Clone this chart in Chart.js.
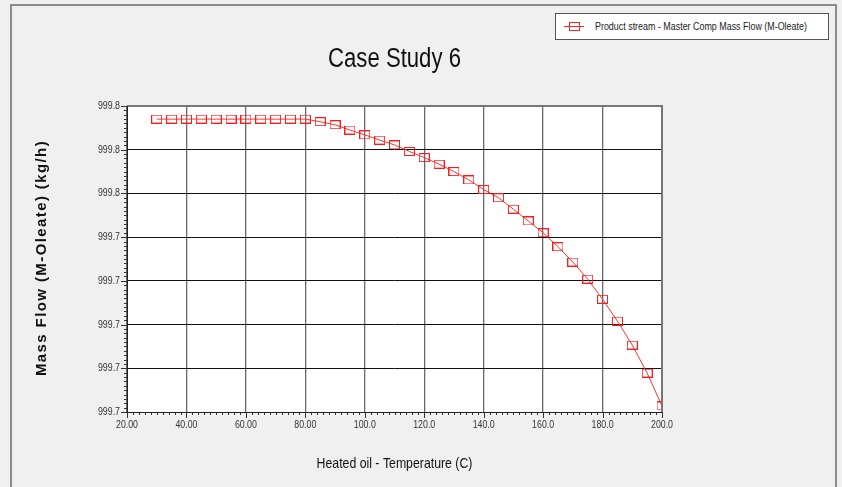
<!DOCTYPE html>
<html lang="en">
<head>
<meta charset="UTF-8" />
<title>Case Study 6</title>
<script src="https://cdn.jsdelivr.net/npm/chart.js@4.4.1/dist/chart.umd.min.js"></script>
<style>
 html, body {
  margin: 0;
  padding: 0;
  background: #f0f0f0;
 }
 .wrap {
  position: relative;
  width: 842px;
  height: 487px;
  overflow: hidden;
 }
 .frame {
  position: absolute;
  left: 10px;
  top: 4px;
  width: 823px;
  height: 520px;
  border: 2px solid #8c8c8c;
  border-bottom: none;
 }
 #chart {
  position: absolute;
  left: 0;
  top: 0;
 }
 .legend {
  position: absolute;
  left: 555px;
  top: 13px;
  width: 272px;
  height: 25px;
  background: #fff;
  border: 1px solid #555;
  font-family: 'Liberation Sans', Arial, sans-serif;
  font-size: 11px;
  color: #222;
  line-height: 25px;
  white-space: nowrap;
 }
 .legend .icon {
  position: absolute;
  left: 8px;
  top: 12px;
  width: 20px;
  height: 1px;
  background: #ff2020;
 }
 .legend .icon::after {
  content: '';
  position: absolute;
  left: 5px;
  top: -4px;
  width: 9px;
  height: 7px;
  border: 1px solid #ff2020;
 }
 .legend .text {
  position: absolute;
  left: 39px;
  top: 0;
  transform: scaleX(0.81);
  transform-origin: left center;
 }
</style>
</head>
<body>
<div class="wrap">
 <div class="frame"></div>
 <canvas id="chart" width="842" height="487"></canvas>
 <div class="legend"><span class="icon"></span><span class="text">Product stream - Master Comp Mass Flow (M-Oleate)</span></div>
</div>
<script>
 // data
 const temps = [30, 35, 40, 45, 50, 55, 60, 65, 70, 75, 80, 85, 90, 95, 100, 105, 110, 115, 120, 125, 130, 135, 140, 145, 150, 155, 160, 165, 170, 175, 180, 185, 190, 195, 200]
 const massFlow = [
  999.767, 999.767, 999.767, 999.767, 999.767, 999.767, 999.767, 999.767, 999.767, 999.767, 999.767,
  999.7664, 999.7657, 999.7645, 999.7634, 999.7622, 999.7611, 999.7596, 999.7582, 999.7567, 999.7550,
  999.7531, 999.7509, 999.7490, 999.7464, 999.7437, 999.7410, 999.7378, 999.7343, 999.7304, 999.7258,
  999.7208, 999.7153, 999.7089, 999.7014
 ]
 const xTicks = [20, 40, 60, 80, 100, 120, 140, 160, 180, 200]
 const xTickLabels = ['20.00', '40.00', '60.00', '80.00', '100.0', '120.0', '140.0', '160.0', '180.0', '200.0']
 const yTicks = [999.70, 999.71, 999.72, 999.73, 999.74, 999.75, 999.76, 999.77]
 const yTickLabels = ['999.7', '999.7', '999.7', '999.7', '999.7', '999.8', '999.8', '999.8']

 const sans = '"Liberation Sans", Arial, sans-serif'

 // open square marker
 const marker = document.createElement('canvas')
 marker.width = 11
 marker.height = 9
 const mctx = marker.getContext('2d')
 mctx.strokeStyle = '#ff1a1a'
 mctx.lineWidth = 1
 mctx.strokeRect(0.5, 0.5, 10, 8)

 // text squeezed sideways, like the narrow font of the original
 function narrowText(ctx, text, x, y, size, squeeze, align) {
  ctx.save()
  ctx.translate(x, y)
  ctx.scale(squeeze, 1)
  ctx.font = size + 'px ' + sans
  ctx.textAlign = align
  ctx.textBaseline = 'middle'
  ctx.fillText(text, 0, 0)
  ctx.restore()
 }

 // white plot area, minor ticks, labels, titles
 const decor = {
  id: 'decor',
  beforeDraw(chart) {
   const { ctx, chartArea: a } = chart
   ctx.save()
   ctx.fillStyle = '#ffffff'
   ctx.fillRect(a.left, a.top, a.right - a.left, a.bottom - a.top)
   ctx.restore()
  },
  afterDraw(chart) {
   const { ctx, chartArea: a, scales } = chart
   const x = scales.x
   const y = scales.y
   ctx.save()
   ctx.strokeStyle = '#333'
   ctx.lineWidth = 1
   ctx.beginPath()
   for (let v = 20; v <= 200; v += 2) {
    const px = Math.round(x.getPixelForValue(v)) + 0.5
    const len = (v % 20 === 0) ? 6 : 3
    ctx.moveTo(px, a.bottom)
    ctx.lineTo(px, a.bottom + len)
   }
   for (let i = 0; i <= 70; i++) {
    const py = Math.round(y.getPixelForValue(999.70 + i * 0.001)) + 0.5
    const len = (i % 10 === 0) ? 6 : 3
    ctx.moveTo(a.left, py)
    ctx.lineTo(a.left - len, py)
   }
   ctx.stroke()
   // plot frame
   ctx.strokeStyle = '#777'
   ctx.lineWidth = 2
   ctx.beginPath()
   ctx.moveTo(a.left, a.top)
   ctx.lineTo(a.right, a.top)
   ctx.lineTo(a.right, a.bottom)
   ctx.stroke()
   ctx.strokeStyle = '#222'
   ctx.lineWidth = 1
   ctx.beginPath()
   ctx.moveTo(a.left + 0.5, a.top)
   ctx.lineTo(a.left + 0.5, a.bottom + 0.5)
   ctx.lineTo(a.right, a.bottom + 0.5)
   ctx.stroke()

   // tick labels
   ctx.fillStyle = '#333'
   xTicks.forEach((v, i) => narrowText(ctx, xTickLabels[i], x.getPixelForValue(v), a.bottom + 13, 11, 0.8, 'center'))
   yTicks.forEach((v, i) => narrowText(ctx, yTickLabels[i], a.left - 7, y.getPixelForValue(v), 11, 0.8, 'right'))

   // titles
   const cx = (a.left + a.right) / 2
   ctx.fillStyle = '#111'
   narrowText(ctx, 'Case Study 6', cx, 60, 27, 0.82, 'center')
   narrowText(ctx, 'Heated oil - Temperature (C)', cx, 464, 15, 0.82, 'center')
   ctx.translate(42, 258)
   ctx.rotate(-Math.PI / 2)
   ctx.font = 'bold 15px ' + sans
   ctx.letterSpacing = '1.4px'
   ctx.textAlign = 'center'
   ctx.textBaseline = 'middle'
   ctx.fillText('Mass Flow (M-Oleate) (kg/h)', 0, 0)
   ctx.restore()
  }
 }

 new Chart(document.getElementById('chart'), {
  type: 'line',
  data: {
   datasets: [{
    label: 'Product stream - Master Comp Mass Flow (M-Oleate)',
    data: temps.map((t, i) => ({ x: t, y: massFlow[i] })),
    borderColor: '#ff3030',
    borderWidth: 1,
    tension: 0,
    pointStyle: marker,
    pointRadius: 5,
    fill: false
   }]
  },
  options: {
   responsive: false,
   animation: false,
   layout: { padding: { top: 106, right: 180, left: 0, bottom: 0 } },
   plugins: {
    legend: { display: false },
    tooltip: { enabled: false },
    title: { display: false }
   },
   scales: {
    x: {
     type: 'linear',
     min: 20,
     max: 200,
     ticks: { stepSize: 20, display: false },
     grid: { color: '#6a6a6a', lineWidth: 1.3, drawTicks: false },
     border: { display: false },
     afterFit: s => { s.height = 75 }
    },
    y: {
     min: 999.70,
     max: 999.77,
     ticks: { count: 8, display: false },
     grid: { color: '#111', lineWidth: 1, drawTicks: false },
     border: { display: false },
     afterFit: s => { s.width = 127 }
    }
   }
  },
  plugins: [decor]
 })
</script>
</body>
</html>
